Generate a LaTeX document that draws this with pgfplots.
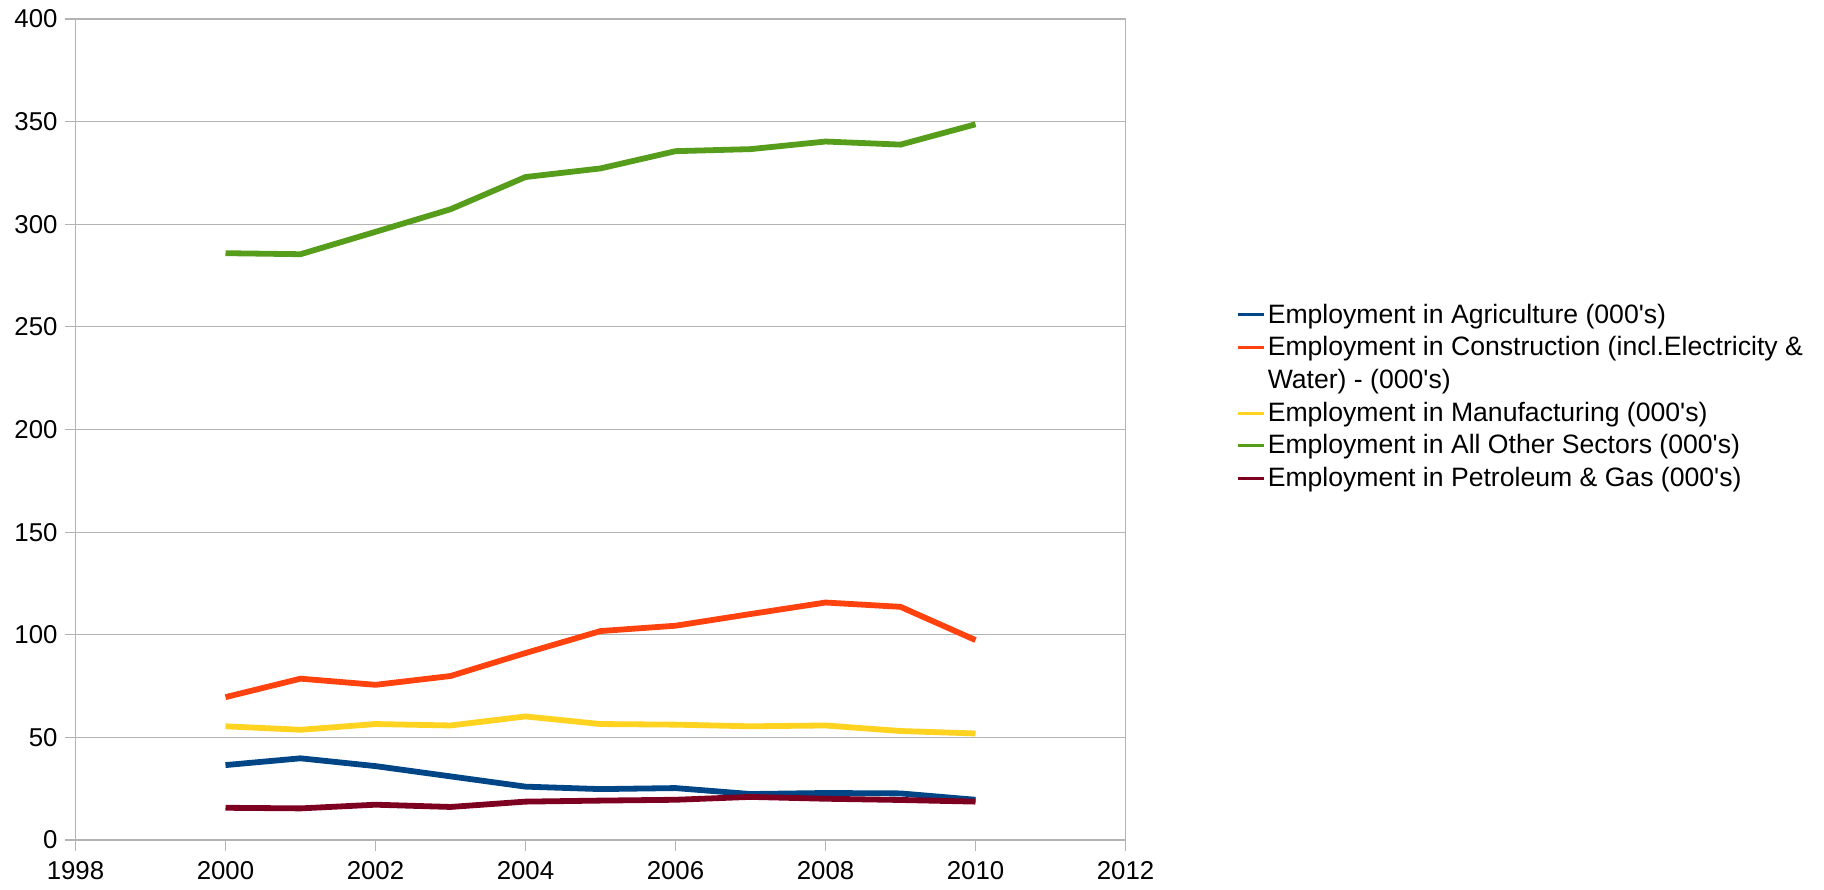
\documentclass[border=0pt]{standalone}
\usepackage{fontspec}
\setmainfont{Liberation Sans}[Ligatures=TeXOff]
\usepackage{pgfplots}
\pgfplotsset{compat=1.18}
\definecolor{cAgr}{HTML}{004586}
\definecolor{cCon}{HTML}{FF420E}
\definecolor{cMan}{HTML}{FFD320}
\definecolor{cOth}{HTML}{579D1C}
\definecolor{cPet}{HTML}{7E0021}
\definecolor{gridgray}{HTML}{B3B3B3}
\begin{document}
\begin{tikzpicture}
\useasboundingbox (-37.75pt,-24.5pt) rectangle (874.25pt,420pt);
\begin{axis}[
  at={(0pt,0pt)}, anchor=south west,
  scale only axis, width=525pt, height=410.5pt,
  xmin=1998, xmax=2012, ymin=0, ymax=400,
  xtick={1998,2000,...,2012}, ytick={0,50,...,400},
  ymajorgrids,
  grid style={color=gridgray, line width=0.6pt},
  axis line style={gridgray, line width=0.6pt},
  every tick/.style={gridgray, line width=0.6pt},
  tick align=outside, major tick length=5.5pt,
  xtick pos=lower, ytick pos=left,
  tick label style={font=\fontsize{12.9}{15}\selectfont},
  /pgf/number format/assume math mode=true,
  x tick label style={/pgf/number format/1000 sep={}, yshift=-1.5pt},
  legend style={at={(axis description cs:1.1052,0.540)}, anchor=west,
    draw=none, fill=none, font=\fontsize{13.3}{15}\selectfont,
    inner sep=0pt, row sep=5.2pt, nodes={inner sep=0pt},
    /tikz/every odd column/.append style={column sep=1.2pt}},
  legend cell align=left,
  legend image code/.code={\draw[#1, line width=1.5pt] (0pt,0pt) -- (13pt,0pt);},
  every axis plot/.append style={line width=2.9pt},
]
\addplot[cAgr] coordinates {(2000,36.5)(2001,39.8)(2002,36.0)(2003,31.0)(2004,26.0)(2005,24.8)(2006,25.3)(2007,22.4)(2008,22.9)(2009,22.7)(2010,19.6)};
\addlegendentry{Employment in Agriculture (000's)}
\addplot[cCon] coordinates {(2000,69.6)(2001,78.6)(2002,75.6)(2003,79.9)(2004,91.1)(2005,101.8)(2006,104.4)(2007,110.1)(2008,115.7)(2009,113.6)(2010,97.4)};
\addlegendentry{Employment in Construction (incl.Electricity \&}
\addlegendimage{empty legend}
\addlegendentry{Water) - (000's)}
\addplot[cMan] coordinates {(2000,55.4)(2001,53.7)(2002,56.5)(2003,55.8)(2004,60.2)(2005,56.5)(2006,56.2)(2007,55.4)(2008,55.8)(2009,53.1)(2010,51.9)};
\addlegendentry{Employment in Manufacturing (000's)}
\addplot[cOth] coordinates {(2000,285.9)(2001,285.4)(2002,296.3)(2003,307.3)(2004,323.0)(2005,327.2)(2006,335.6)(2007,336.6)(2008,340.3)(2009,338.8)(2010,348.7)};
\addlegendentry{Employment in All Other Sectors (000's)}
\addplot[cPet] coordinates {(2000,15.7)(2001,15.4)(2002,17.2)(2003,16.1)(2004,18.7)(2005,19.2)(2006,19.6)(2007,21.0)(2008,20.1)(2009,19.5)(2010,18.7)};
\addlegendentry{Employment in Petroleum \& Gas (000's)}
\end{axis}
\end{tikzpicture}
\end{document}
